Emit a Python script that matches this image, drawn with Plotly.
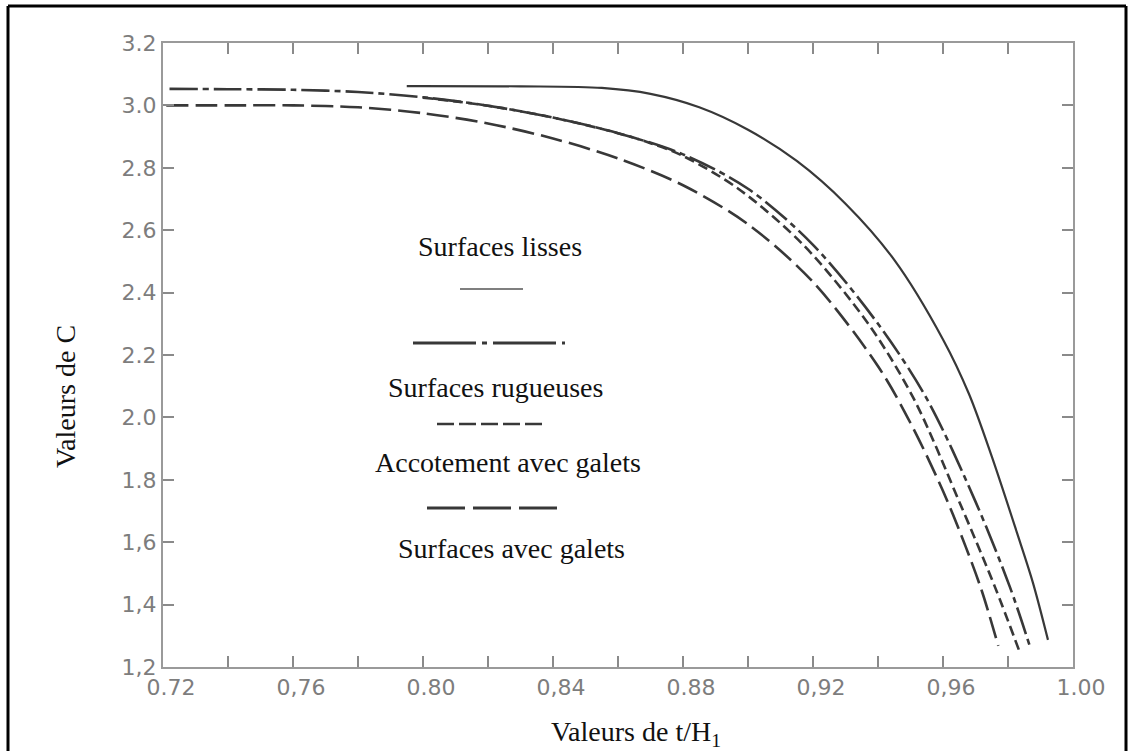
import plotly.graph_objects as go

# ---------------- data ----------------
x_lisses = [0.795, 0.83, 0.855, 0.87, 0.885, 0.90, 0.915, 0.93, 0.945, 0.96, 0.968,
            0.975, 0.9828, 0.9877, 0.9923]
y_lisses = [3.062, 3.061, 3.056, 3.037, 2.994, 2.922, 2.822, 2.685, 2.505, 2.25, 2.075,
            1.875, 1.629, 1.469, 1.287]

x_rugueuses = [0.722, 0.74, 0.76, 0.78, 0.80, 0.82, 0.84, 0.86, 0.88, 0.90, 0.92,
               0.94, 0.955, 0.97, 0.9806, 0.9868]
y_rugueuses = [3.053, 3.052, 3.05, 3.043, 3.026, 2.999, 2.961, 2.911, 2.843, 2.733, 2.553,
               2.30, 2.06, 1.73, 1.456, 1.264]

x_accotement = [0.80, 0.82, 0.84, 0.86, 0.87, 0.88, 0.897, 0.917, 0.937, 0.951, 0.965,
                0.976, 0.9837]
y_accotement = [3.025, 2.999, 2.961, 2.911, 2.879, 2.838, 2.733, 2.553, 2.30, 2.06, 1.73,
                1.456, 1.245]

x_galets = [0.721, 0.74, 0.76, 0.78, 0.80, 0.82, 0.84, 0.86, 0.88, 0.90, 0.92, 0.94,
            0.95, 0.96, 0.967, 0.972, 0.977]
y_galets = [3.0, 3.0, 3.0, 2.994, 2.975, 2.942, 2.894, 2.830, 2.744, 2.619, 2.434, 2.164,
            1.982, 1.764, 1.585, 1.442, 1.268]

x_tickvals = [0.72, 0.76, 0.80, 0.84, 0.88, 0.92, 0.96, 1.00]
x_ticktext = ["0.72", "0,76", "0.80", "0,84", "0.88", "0,92", "0,96", "1.00"]
y_tickvals = [1.2, 1.4, 1.6, 1.8, 2.0, 2.2, 2.4, 2.6, 2.8, 3.0, 3.2]
y_ticktext = ["1,2", "1,4", "1,6", "1.8", "2.0", "2.2", "2.4", "2.6", "2.8", "3.0", "3.2"]

legend_labels = ["Surfaces lisses", "Surfaces rugueuses", "Accotement avec galets",
                 "Surfaces avec galets"]

# ---------------- layout helpers ----------------
W, H = 1132, 751
L, R, T, B = 163, 59, 43, 84
PW, PH = W - L - R, H - T - B


def px(x):
    return (x - L) / PW


def py(y):
    return (H - B - y) / PH


LINE = "#383838"
SERIF = "Liberation Serif, Times New Roman, serif"

fig = go.Figure()
fig.add_trace(go.Scatter(x=x_lisses, y=y_lisses, mode="lines", name=legend_labels[0],
                         line=dict(color=LINE, width=2.2, shape="spline", smoothing=0.9)))
fig.add_trace(go.Scatter(x=x_rugueuses, y=y_rugueuses, mode="lines", name=legend_labels[1],
                         line=dict(color=LINE, width=2.6, dash="28px,5px,6px,5px",
                                   shape="spline", smoothing=0.9)))
fig.add_trace(go.Scatter(x=x_accotement, y=y_accotement, mode="lines", name=legend_labels[2],
                         line=dict(color=LINE, width=2.6, dash="10px,5px",
                                   shape="spline", smoothing=0.9)))
fig.add_trace(go.Scatter(x=x_galets, y=y_galets, mode="lines", name=legend_labels[3],
                         line=dict(color=LINE, width=2.6, dash="22px,7px",
                                   shape="spline", smoothing=0.9)))

axis_common = dict(showgrid=False, zeroline=False, showline=True, linecolor="#9a9a9a",
                   linewidth=2, mirror="ticks", ticks="inside", ticklen=11, tickwidth=1.5,
                   tickcolor="#8a8a8a",
                   tickfont=dict(family="DejaVu Sans", size=22, color="#7d7d7d"))

fig.update_xaxes(range=[0.72, 1.00], tickmode="array", tickvals=x_tickvals,
                 ticktext=x_ticktext, ticklabelshift=8,
                 minor=dict(tickmode="linear", tick0=0.72, dtick=0.02, ticks="inside",
                            ticklen=11, tickwidth=1.5, tickcolor="#8a8a8a", showgrid=False),
                 **axis_common)
fig.update_yaxes(range=[1.2, 3.2], tickmode="array", tickvals=y_tickvals,
                 ticktext=y_ticktext, **axis_common)

annotations = [
    dict(text="Valeurs de t/H<sub>1</sub>", x=px(636), y=py(733)),
    dict(text="Valeurs de C", x=px(65), y=py(397), textangle=-90),
    dict(text=legend_labels[0], x=px(500), y=py(247)),
    dict(text=legend_labels[1], x=px(495), y=py(387)),
    dict(text=legend_labels[2], x=px(508), y=py(462)),
    dict(text=legend_labels[3], x=px(511), y=py(548)),
]
for a in annotations:
    a.update(xref="paper", yref="paper", xanchor="center", yanchor="middle",
             showarrow=False, font=dict(family=SERIF, size=28, color="#111111"))

shapes = [
    # legend sample lines
    dict(type="line", x0=px(460), x1=px(523), y0=py(289), y1=py(289),
         line=dict(color="#555555", width=1.6)),
    dict(type="line", x0=px(413), x1=px(565), y0=py(343), y1=py(343),
         line=dict(color=LINE, width=3, dash="63px,6px,5px,6px")),
    dict(type="line", x0=px(437), x1=px(542), y0=py(424), y1=py(424),
         line=dict(color=LINE, width=2.6, dash="17px,5px")),
    dict(type="line", x0=px(427), x1=px(557), y0=py(508), y1=py(508),
         line=dict(color=LINE, width=3, dash="38px,8px")),
    # outer black frame (left, top, right)
    dict(type="line", x0=px(8), x1=px(8), y0=py(6), y1=py(760),
         line=dict(color="black", width=3)),
    dict(type="line", x0=px(8), x1=px(1126), y0=py(6), y1=py(6),
         line=dict(color="black", width=3)),
    dict(type="line", x0=px(1126), x1=px(1126), y0=py(6), y1=py(760),
         line=dict(color="black", width=3)),
]
for s in shapes:
    s.update(xref="paper", yref="paper")

fig.update_layout(width=W, height=H, margin=dict(l=L, r=R, t=T, b=B),
                  paper_bgcolor="white", plot_bgcolor="white", showlegend=False,
                  annotations=annotations, shapes=shapes)

fig.write_html("out.html")
